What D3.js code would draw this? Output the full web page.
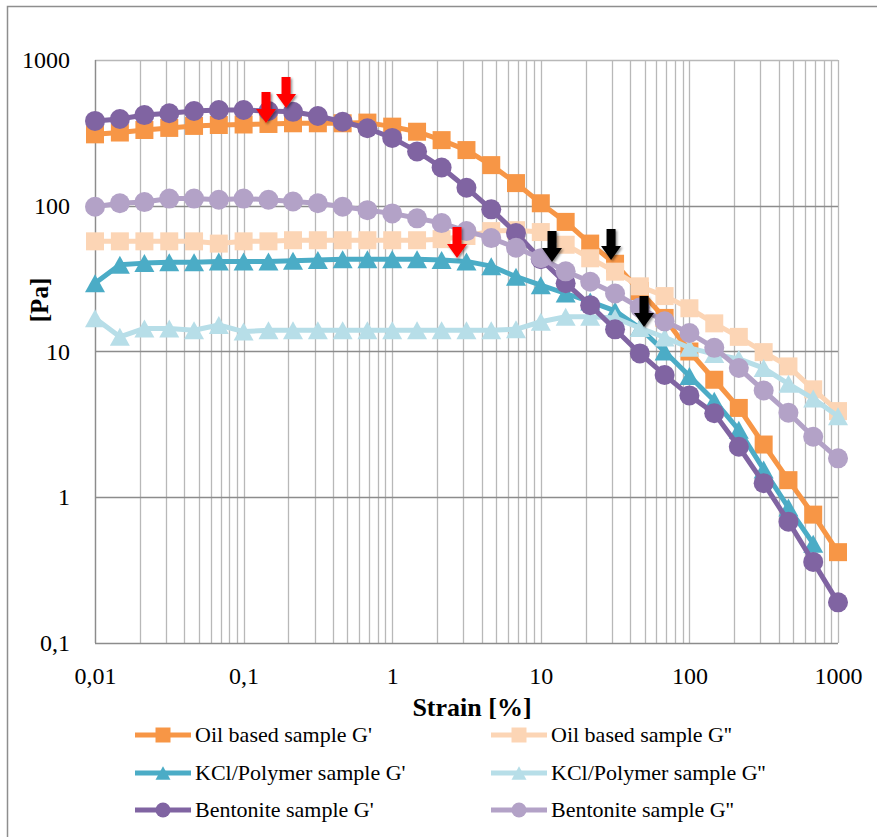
<!DOCTYPE html>
<html>
<head>
<meta charset="utf-8">
<script src="https://d3js.org/d3.v7.min.js"></script>
<style>
	body { margin: 0; background: #fff; }
	text { font-family: "Liberation Serif", "Times New Roman", serif; fill: #000; }
</style>
</head>
<body>
<div id="chart"></div>
<script>

// Strain values [%] (6 points per decade):
var strain = [0.01, 0.0147, 0.0215, 0.0316, 0.0464, 0.0681, 0.1, 0.147, 0.215, 0.316, 0.464, 0.681, 1, 1.47, 2.15, 3.16, 4.64, 6.81, 10, 14.7, 21.5, 31.6, 46.4, 68.1, 100, 147, 215, 316, 464, 681, 1000];

// Moduli [Pa]:
var oilG1 = [309, 318, 331, 342, 353, 358, 361, 364, 368, 368, 368, 372, 349, 322, 282, 241, 190, 143, 104, 77.5, 55, 40, 26, 17, 10, 6.4, 4.1, 2.3, 1.31, 0.76, 0.42];
var oilG2 = [57, 57, 57, 57, 57, 55, 57, 57, 58, 58, 58, 58, 58, 58, 59, 62, 67, 68, 66, 54, 43.6, 35.3, 28, 24, 19.8, 15.6, 12.6, 9.9, 7.9, 5.5, 3.9];
var kclG1 = [29.4, 39.4, 40.4, 41, 41, 41.5, 41.5, 41.5, 42, 42.5, 43, 43, 43, 43, 42.5, 41.5, 38.5, 32.6, 28.5, 25, 22, 19, 14.5, 10, 6.8, 4.6, 2.9, 1.55, 0.85, 0.48, null];
var kclG2 = [16.9, 12.6, 14.4, 14.4, 14.0, 15.2, 13.7, 14.0, 14.0, 14.0, 14.0, 14.0, 14.0, 14.0, 14.0, 14.0, 14.0, 14.2, 16.0, 17.3, 17.3, 17.0, 14.5, 12.5, 10.6, 9.6, 8.9, 7.7, 6.0, 4.75, 3.6];
var bentG1 = [382, 394, 419, 431, 447, 454, 454, 447, 441, 413, 377, 340, 292, 236, 183, 133, 94.5, 65, 43, 29.4, 20.8, 14.2, 9.7, 6.9, 5.0, 3.77, 2.22, 1.25, 0.68, 0.36, 0.19];
var bentG2 = [98.5, 104, 106, 112, 112, 110, 112, 110, 107, 104, 98.5, 93.3, 88.6, 82, 76, 67, 60, 51.5, 43.6, 35.5, 30.1, 25, 20, 16.1, 13.4, 10.6, 7.7, 5.4, 3.8, 2.6, 1.85];

var seriesNames = ["Oil based sample G'", "Oil based sample G''", "KCl/Polymer sample G'", "KCl/Polymer sample G''", "Bentonite sample G'", "Bentonite sample G''"];

// Tick labels:
var xTicks = [0.01, 0.1, 1, 10, 100, 1000];
var xTickLabels = ["0,01", "0,1", "1", "10", "100", "1000"];
var yTicks = [0.1, 1, 10, 100, 1000];
var yTickLabels = ["0,1", "1", "10", "100", "1000"];

// Arrow annotations (tip at strain, modulus):
var redArrows = [[0.1415, 370], [0.193, 468], [2.73, 43.8]];
var blackArrows = [[11.9, 41.1], [29.7, 42.4], [49.5, 14.7]];

// Canvas:
var width = 877,
	height = 837,
	margin = [60, 39, 194, 95],
	gw = width - margin[1] - margin[3],
	gh = height - margin[0] - margin[2];

var styles = [
	{ color: '#F79646', symbol: 'square' },
	{ color: '#FCD5B5', symbol: 'square' },
	{ color: '#4BACC6', symbol: 'triangle' },
	{ color: '#B7DEE8', symbol: 'triangle' },
	{ color: '#8064A2', symbol: 'circle' },
	{ color: '#B3A2C7', symbol: 'circle' }
];

var values = [oilG1, oilG2, kclG1, kclG2, bentG1, bentG2];

var series = values.map(function(v, i) {
	return {
		name: seriesNames[i],
		style: styles[i],
		points: strain.map(function(s, j) { return { x: s, y: v[j] }; })
	};
});

var xScale = d3.scaleLog().domain([0.01, 1000]).range([0, gw]),
	yScale = d3.scaleLog().domain([0.1, 1000]).range([gh, 0]);

var svg = d3.select('#chart').append('svg')
	.attr('width', width)
	.attr('height', height);

// Drop shadow for the arrows:
svg.append('defs').append('filter')
	.attr('id', 'shadow')
	.attr('x', '-50%').attr('y', '-50%').attr('width', '200%').attr('height', '200%')
	.append('feDropShadow')
		.attr('dx', 1.5).attr('dy', 1.5)
		.attr('stdDeviation', 1.3)
		.attr('flood-color', '#000')
		.attr('flood-opacity', 0.45);

// Outer frame (left and top edges are visible):
svg.append('path')
	.attr('d', 'M7.5,' + height + 'V6.5H' + width)
	.attr('fill', 'none')
	.attr('stroke', '#8e8e8e')
	.attr('stroke-width', 1.5);

var chart = svg.append('g')
	.attr('transform', 'translate(' + margin[3] + ',' + margin[0] + ')');

// Vertical gridlines (major and minor):
var xGrid = [];
for (var d = -2; d < 3; d++) {
	for (var m = 1; m < 10; m++) { xGrid.push(m * Math.pow(10, d)); }
}
xGrid.push(1000);

chart.append('g').selectAll('line')
	.data(xGrid)
	.join('line')
		.attr('x1', function(d) { return Math.round(xScale(d)) + 0.5; })
		.attr('x2', function(d) { return Math.round(xScale(d)) + 0.5; })
		.attr('y1', 0)
		.attr('y2', gh)
		.attr('stroke', '#b8b8b8')
		.attr('stroke-width', 1.3);

// Horizontal gridlines (decades):
chart.append('g').selectAll('line')
	.data(yTicks)
	.join('line')
		.attr('x1', 0)
		.attr('x2', gw)
		.attr('y1', function(d) { return Math.round(yScale(d)) + 0.5; })
		.attr('y2', function(d) { return Math.round(yScale(d)) + 0.5; })
		.attr('stroke', function(d) { return d === 1000 ? '#b8b8b8' : '#8c8c8c'; })
		.attr('stroke-width', 1.3);

// Left axis line:
chart.append('line')
	.attr('x1', 0.5).attr('x2', 0.5)
	.attr('y1', 0).attr('y2', gh)
	.attr('stroke', '#8c8c8c')
	.attr('stroke-width', 1.3);

// Tick labels through d3 axes (no tick marks, no domain):
var xAxis = chart.append('g')
	.attr('transform', 'translate(0,' + gh + ')')
	.call(d3.axisBottom(xScale).tickValues(xTicks).tickSize(0).tickPadding(24)
		.tickFormat(function(d, i) { return xTickLabels[i]; }));

var yAxis = chart.append('g')
	.call(d3.axisLeft(yScale).tickValues(yTicks).tickSize(0).tickPadding(25)
		.tickFormat(function(d, i) { return yTickLabels[i]; }));

[xAxis, yAxis].forEach(function(ax) {
	ax.select('.domain').remove();
	ax.selectAll('text')
		.attr('font-family', '"Liberation Serif", serif')
		.attr('font-size', 24)
		.attr('fill', '#000');
});

// Marker path generators:
function markerPath(symbol, s) {
	var h = s / 2;
	if (symbol === 'square') {
		return 'M' + (-h) + ',' + (-h) + 'h' + s + 'v' + s + 'h' + (-s) + 'Z';
	}
	if (symbol === 'triangle') {
		var th = s * 0.9;
		return 'M0,' + (-th / 2) + 'L' + h + ',' + (th / 2) + 'L' + (-h) + ',' + (th / 2) + 'Z';
	}
	return d3.symbol().type(d3.symbolCircle).size(Math.PI * h * h)();
}

var line = d3.line()
	.defined(function(d) { return d.y != null; })
	.x(function(d) { return xScale(d.x); })
	.y(function(d) { return yScale(d.y); });

// Series: line, then markers (drawn in legend order):
series.forEach(function(s) {
	var g = chart.append('g').attr('class', 'series');
	var markerSize = s.style.symbol === 'square' ? 18 : 20;

	g.append('path')
		.datum(s.points)
		.attr('d', line)
		.attr('fill', 'none')
		.attr('stroke', s.style.color)
		.attr('stroke-width', 5)
		.attr('stroke-linejoin', 'round');

	g.selectAll('path.marker')
		.data(s.points.filter(function(d) { return d.y != null; }))
		.join('path')
			.attr('class', 'marker')
			.attr('d', markerPath(s.style.symbol, markerSize))
			.attr('transform', function(d) { return 'translate(' + xScale(d.x) + ',' + yScale(d.y) + ')'; })
			.attr('fill', s.style.color);
});

// Arrows (tip at data coordinates):
var arrowShape = 'M-4.5,-31H4.5V-14H10L0,0L-10,-14H-4.5Z';

function drawArrows(data, color) {
	chart.append('g').selectAll('path')
		.data(data)
		.join('path')
			.attr('d', arrowShape)
			.attr('transform', function(d) { return 'translate(' + xScale(d[0]) + ',' + yScale(d[1]) + ')'; })
			.attr('fill', color)
			.attr('filter', 'url(#shadow)');
}
drawArrows(redArrows, '#ff0000');
drawArrows(blackArrows, '#000000');

// Axis titles:
svg.append('text')
	.attr('x', 472)
	.attr('y', 716)
	.attr('text-anchor', 'middle')
	.attr('font-size', 26)
	.attr('font-weight', 'bold')
	.text('Strain [%]');

svg.append('text')
	.attr('transform', 'translate(48,300) rotate(-90)')
	.attr('text-anchor', 'middle')
	.attr('font-size', 25)
	.attr('font-weight', 'bold')
	.text('[Pa]');

// Legend (two columns, three rows):
var legend = svg.append('g');
var legendCols = [135, 491],
	legendRows = [735, 773, 810];

series.forEach(function(s, i) {
	var lx = legendCols[i % 2],
		ly = legendRows[Math.floor(i / 2)],
		item = legend.append('g').attr('transform', 'translate(' + lx + ',' + ly + ')');

	item.append('line')
		.attr('x1', 0).attr('x2', 56)
		.attr('y1', 0).attr('y2', 0)
		.attr('stroke', s.style.color)
		.attr('stroke-width', 5);

	item.append('path')
		.attr('d', markerPath(s.style.symbol, 15))
		.attr('transform', 'translate(28,0)')
		.attr('fill', s.style.color);

	item.append('text')
		.attr('x', 60)
		.attr('y', 0)
		.attr('dy', '0.33em')
		.attr('font-size', 22)
		.text(s.name);
});

</script>
</body>
</html>
